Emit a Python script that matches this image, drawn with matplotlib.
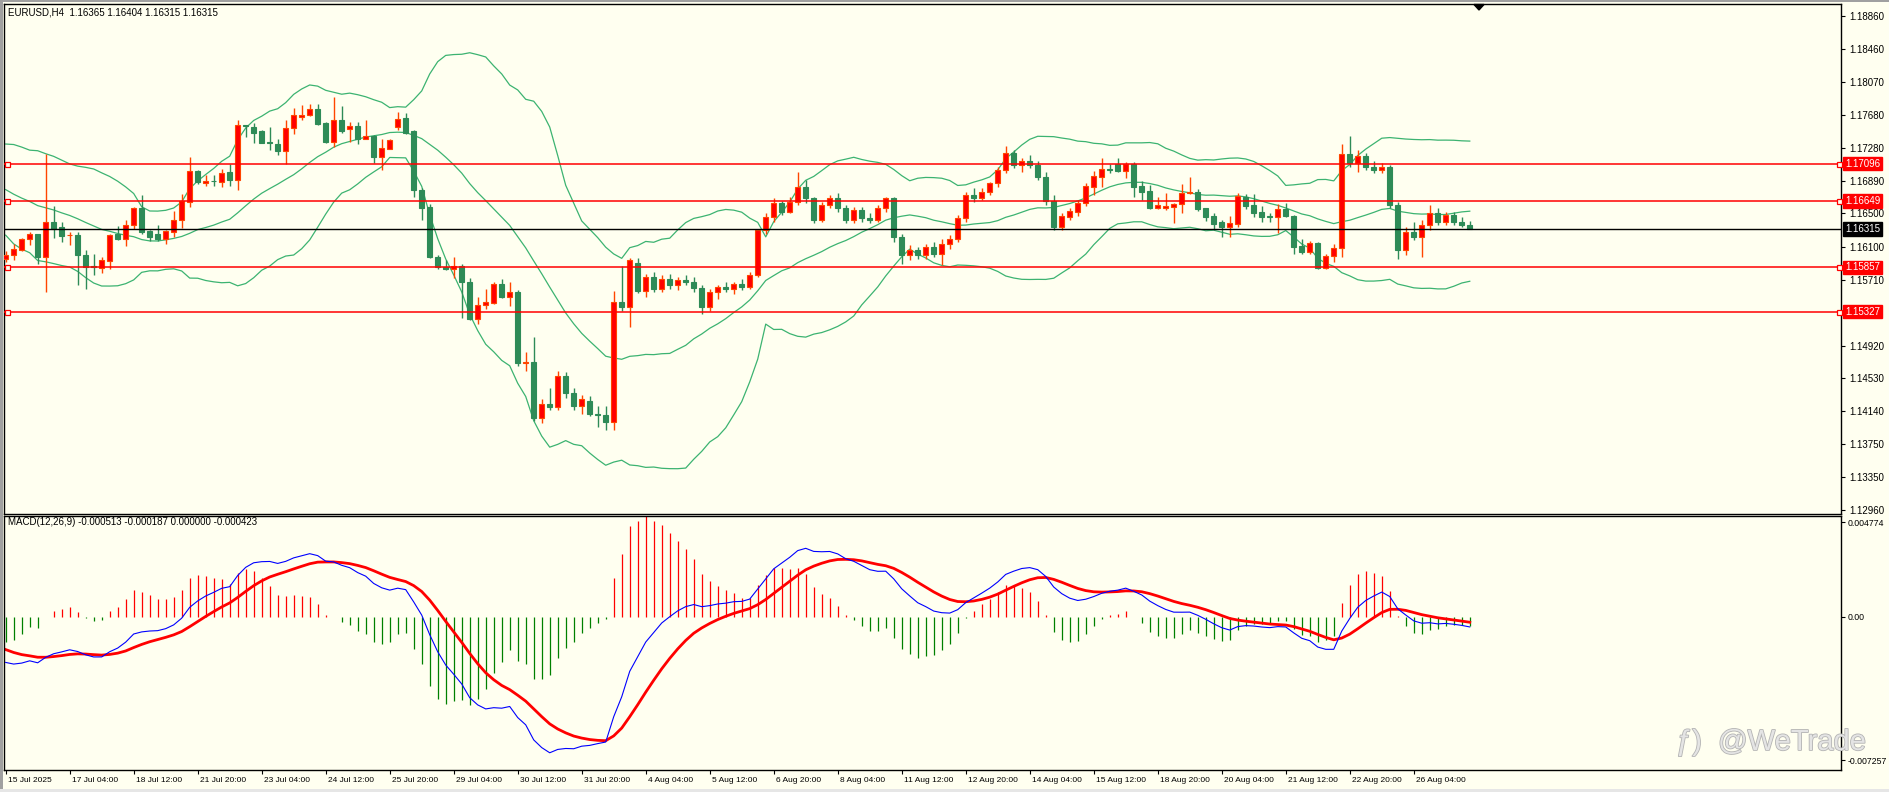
import numpy as np
import matplotlib.pyplot as plt
import matplotlib.patheffects as pe
from matplotlib.patches import Rectangle, Polygon
from matplotlib.transforms import blended_transform_factory, ScaledTranslation

# ---- chart data ----
title_text = "EURUSD,H4  1.16365 1.16404 1.16315 1.16315"
macd_text = "MACD(12,26,9) -0.000513 -0.000187 0.000000 -0.000423"

opens = [
    1.15954, 1.16000, 1.16069, 1.16197, 1.16252, 1.15982, 1.16392, 1.16340, 1.16240, 1.16248,
    1.16009, 1.15870, 1.15854, 1.15934, 1.16252, 1.16189, 1.16356, 1.16563, 1.16292, 1.16260,
    1.16189, 1.16280, 1.16419, 1.16638, 1.17008, 1.16865, 1.16893, 1.16877, 1.16989, 1.16905,
    1.17550, 1.17530, 1.17482, 1.17347, 1.17323, 1.17247, 1.17514, 1.17653, 1.17673, 1.17741,
    1.17582, 1.17355, 1.17621, 1.17510, 1.17538, 1.17387, 1.17430, 1.17176, 1.17275, 1.17534,
    1.17641, 1.17482, 1.16778, 1.16582, 1.15985, 1.15865, 1.15837, 1.15877, 1.15686, 1.15240,
    1.15408, 1.15431, 1.15658, 1.15499, 1.15567, 1.14711, 1.14731, 1.14060, 1.14230, 1.14190,
    1.14560, 1.14360, 1.14200, 1.14260, 1.14110, 1.14090, 1.14010, 1.15447, 1.15379, 1.15905,
    1.15571, 1.15740, 1.15600, 1.15720, 1.15640, 1.15700, 1.15680, 1.15610, 1.15380, 1.15560,
    1.15620, 1.15600, 1.15660, 1.15620, 1.15760, 1.16300, 1.16460, 1.16620, 1.16520, 1.16640,
    1.16820, 1.16680, 1.16420, 1.16600, 1.16680, 1.16560, 1.16420, 1.16540, 1.16440, 1.16420,
    1.16560, 1.16680, 1.16220, 1.16000, 1.16060, 1.16000, 1.16100, 1.16020, 1.16140, 1.16200,
    1.16440, 1.16720, 1.16680, 1.16760, 1.16860, 1.17020, 1.17220, 1.17080, 1.17120, 1.17080,
    1.16940, 1.16647, 1.16342, 1.16453, 1.16520, 1.16620, 1.16818, 1.16937, 1.17036, 1.17096,
    1.17009, 1.17096, 1.16826, 1.16767, 1.16568, 1.16568, 1.16580, 1.16608, 1.16747, 1.16751,
    1.16568, 1.16469, 1.16401, 1.16342, 1.16373, 1.16699, 1.16600, 1.16516, 1.16465, 1.16453,
    1.16548, 1.16469, 1.16112, 1.16044, 1.16143, 1.15845, 1.15996, 1.16084, 1.17215, 1.17100,
    1.17180, 1.17060, 1.17020, 1.17060, 1.16600, 1.16060, 1.16280, 1.16220, 1.16360, 1.16500,
    1.16400, 1.16480, 1.16400, 1.16365,
]
highs = [
    1.16049, 1.16141, 1.16201, 1.16280, 1.16260, 1.17215, 1.16587, 1.16400, 1.16280, 1.16280,
    1.16061, 1.16021, 1.15982, 1.16260, 1.16348, 1.16419, 1.16579, 1.16718, 1.16300, 1.16356,
    1.16300, 1.16527, 1.16730, 1.17168, 1.17024, 1.16957, 1.16957, 1.17036, 1.17088, 1.17613,
    1.17554, 1.17574, 1.17494, 1.17534, 1.17394, 1.17613, 1.17753, 1.17792, 1.17805, 1.17801,
    1.17594, 1.17884, 1.17781, 1.17586, 1.17594, 1.17613, 1.17434, 1.17387, 1.17387, 1.17705,
    1.17701, 1.17494, 1.16800, 1.16614, 1.16005, 1.15945, 1.15985, 1.15897, 1.15730, 1.15507,
    1.15599, 1.15678, 1.15718, 1.15678, 1.15587, 1.14850, 1.15029, 1.14280, 1.14420, 1.14620,
    1.14610, 1.14420, 1.14330, 1.14320, 1.14200, 1.14200, 1.15579, 1.15877, 1.15965, 1.15965,
    1.15780, 1.15800, 1.15760, 1.15780, 1.15740, 1.15760, 1.15740, 1.15650, 1.15600, 1.15640,
    1.15680, 1.15680, 1.15720, 1.15800, 1.16320, 1.16500, 1.16680, 1.16650, 1.16700, 1.16990,
    1.16900, 1.16700, 1.16640, 1.16720, 1.16740, 1.16600, 1.16580, 1.16580, 1.16500, 1.16600,
    1.16700, 1.16700, 1.16260, 1.16120, 1.16100, 1.16140, 1.16160, 1.16200, 1.16240, 1.16480,
    1.16760, 1.16800, 1.16800, 1.16880, 1.17060, 1.17300, 1.17260, 1.17160, 1.17200, 1.17120,
    1.17000, 1.16719, 1.16508, 1.16560, 1.16659, 1.16858, 1.17009, 1.17163, 1.17096, 1.17156,
    1.17116, 1.17116, 1.16886, 1.16838, 1.16699, 1.16747, 1.16628, 1.16850, 1.16930, 1.16786,
    1.16568, 1.16508, 1.16421, 1.16469, 1.16747, 1.16731, 1.16731, 1.16588, 1.16508, 1.16608,
    1.16620, 1.16481, 1.16191, 1.16175, 1.16163, 1.16016, 1.16135, 1.17326, 1.17430, 1.17260,
    1.17220, 1.17120, 1.17100, 1.17080, 1.16640, 1.16340, 1.16400, 1.16420, 1.16600, 1.16560,
    1.16520, 1.16520, 1.16460, 1.16404,
]
lows = [
    1.15922, 1.15942, 1.16053, 1.16121, 1.15902, 1.15560, 1.16201, 1.16161, 1.16121, 1.15640,
    1.15600, 1.15763, 1.15783, 1.15842, 1.16181, 1.16113, 1.16320, 1.16252, 1.16173, 1.16169,
    1.16141, 1.16220, 1.16328, 1.16571, 1.16849, 1.16825, 1.16825, 1.16810, 1.16825, 1.16778,
    1.17414, 1.17335, 1.17335, 1.17263, 1.17195, 1.17096, 1.17454, 1.17621, 1.17661, 1.17554,
    1.17335, 1.17295, 1.17466, 1.17347, 1.17327, 1.17383, 1.17104, 1.17024, 1.17275, 1.17494,
    1.17454, 1.16698, 1.16422, 1.15969, 1.15837, 1.15829, 1.15730, 1.15252, 1.15232, 1.15181,
    1.15360, 1.15419, 1.15491, 1.15392, 1.14675, 1.14624, 1.14020, 1.14000, 1.14150, 1.14150,
    1.14300, 1.14150, 1.14110, 1.14080, 1.13950, 1.13920, 1.13920, 1.15340, 1.15149, 1.15547,
    1.15500, 1.15560, 1.15560, 1.15600, 1.15590, 1.15640, 1.15560, 1.15300, 1.15340, 1.15480,
    1.15560, 1.15540, 1.15580, 1.15600, 1.15740, 1.16260, 1.16400, 1.16480, 1.16500, 1.16600,
    1.16620, 1.16380, 1.16400, 1.16560, 1.16520, 1.16380, 1.16380, 1.16400, 1.16380, 1.16400,
    1.16520, 1.16160, 1.15900, 1.15940, 1.15960, 1.15960, 1.15980, 1.15880, 1.16080, 1.16160,
    1.16400, 1.16640, 1.16660, 1.16720, 1.16820, 1.16980, 1.17040, 1.17000, 1.17040, 1.16900,
    1.16600, 1.16302, 1.16302, 1.16421, 1.16469, 1.16588, 1.16719, 1.16810, 1.16985, 1.16997,
    1.16917, 1.16699, 1.16659, 1.16552, 1.16552, 1.16540, 1.16389, 1.16508, 1.16731, 1.16532,
    1.16413, 1.16302, 1.16215, 1.16223, 1.16342, 1.16556, 1.16453, 1.16401, 1.16393, 1.16262,
    1.16453, 1.16016, 1.16016, 1.16016, 1.15833, 1.15833, 1.15925, 1.15976, 1.17050, 1.17000,
    1.17020, 1.16980, 1.16980, 1.16560, 1.15960, 1.16000, 1.16180, 1.15980, 1.16300, 1.16360,
    1.16360, 1.16360, 1.16340, 1.16315,
]
closes = [
    1.16009, 1.16081, 1.16189, 1.16252, 1.15982, 1.16392, 1.16320, 1.16232, 1.16248, 1.16009,
    1.15862, 1.15862, 1.15942, 1.16240, 1.16189, 1.16360, 1.16563, 1.16280, 1.16220, 1.16189,
    1.16288, 1.16419, 1.16650, 1.17005, 1.16877, 1.16885, 1.16885, 1.16977, 1.16901, 1.17550,
    1.17542, 1.17462, 1.17343, 1.17343, 1.17247, 1.17514, 1.17673, 1.17677, 1.17745, 1.17566,
    1.17355, 1.17621, 1.17486, 1.17538, 1.17383, 1.17430, 1.17176, 1.17287, 1.17375, 1.17633,
    1.17466, 1.16778, 1.16566, 1.15977, 1.15857, 1.15837, 1.15877, 1.15678, 1.15240, 1.15408,
    1.15447, 1.15658, 1.15499, 1.15567, 1.14715, 1.14731, 1.14060, 1.14230, 1.14190, 1.14560,
    1.14360, 1.14200, 1.14280, 1.14110, 1.14090, 1.14010, 1.15447, 1.15379, 1.15945, 1.15571,
    1.15740, 1.15600, 1.15720, 1.15640, 1.15700, 1.15680, 1.15610, 1.15380, 1.15560, 1.15620,
    1.15600, 1.15660, 1.15620, 1.15760, 1.16300, 1.16460, 1.16620, 1.16520, 1.16640, 1.16820,
    1.16680, 1.16420, 1.16600, 1.16680, 1.16560, 1.16420, 1.16540, 1.16440, 1.16420, 1.16560,
    1.16680, 1.16220, 1.16000, 1.16060, 1.16000, 1.16100, 1.16020, 1.16140, 1.16200, 1.16440,
    1.16720, 1.16680, 1.16760, 1.16860, 1.17020, 1.17220, 1.17080, 1.17120, 1.17080, 1.16940,
    1.16647, 1.16342, 1.16469, 1.16528, 1.16620, 1.16826, 1.16945, 1.17036, 1.17017, 1.17005,
    1.17096, 1.16818, 1.16759, 1.16568, 1.16600, 1.16588, 1.16612, 1.16747, 1.16759, 1.16552,
    1.16461, 1.16373, 1.16342, 1.16381, 1.16707, 1.16588, 1.16508, 1.16461, 1.16461, 1.16548,
    1.16469, 1.16104, 1.16044, 1.16143, 1.15845, 1.15992, 1.16084, 1.17215, 1.17100, 1.17180,
    1.17060, 1.17020, 1.17060, 1.16600, 1.16060, 1.16280, 1.16220, 1.16360, 1.16500, 1.16400,
    1.16480, 1.16400, 1.16365, 1.16315,
]

# closes just before the visible window (only used to warm up the bands)
prior_closes = [1.17180, 1.17120, 1.17050, 1.16980, 1.16900, 1.16850, 1.16920, 1.16870, 1.16800,
                1.16750, 1.16700, 1.16760, 1.16680, 1.16720, 1.16790, 1.16900, 1.16960, 1.16540, 1.16210]
ema12_seed = 1.16470
ema26_seed = 1.16680
dea_seed = -0.00150

level_lines = [1.17096, 1.16649, 1.15857, 1.15327]
bid_price = 1.16315
price_ticks = [1.18860, 1.18460, 1.18070, 1.17680, 1.17280, 1.16890, 1.16500, 1.16100,
               1.15710, 1.14920, 1.14530, 1.14140, 1.13750, 1.13350, 1.12960]
macd_ticks = [0.004774, 0.0, -0.007257]
macd_tick_labels = ["0.004774", "0.00", "-0.007257"]
date_labels = ["15 Jul 2025", "17 Jul 04:00", "18 Jul 12:00", "21 Jul 20:00", "23 Jul 04:00",
               "24 Jul 12:00", "25 Jul 20:00", "29 Jul 04:00", "30 Jul 12:00", "31 Jul 20:00",
               "4 Aug 04:00", "5 Aug 12:00", "6 Aug 20:00", "8 Aug 04:00", "11 Aug 12:00",
               "12 Aug 20:00", "14 Aug 04:00", "15 Aug 12:00", "18 Aug 20:00", "20 Aug 04:00",
               "21 Aug 12:00", "22 Aug 20:00", "26 Aug 04:00"]

# ---- indicators ----
allc = np.array(prior_closes + closes)
n0 = len(prior_closes)
bb_mid = np.array([allc[k - 19:k + 1].mean() for k in range(n0, len(allc))])
bb_std = np.array([allc[k - 19:k + 1].std() for k in range(n0, len(allc))])
bb_up = bb_mid + 2 * bb_std
bb_lo = bb_mid - 2 * bb_std


def ema(vals, seed, period):
    a = 2.0 / (period + 1)
    out = []
    prev = seed
    for v in vals:
        prev = prev + a * (v - prev)
        out.append(prev)
    return np.array(out)


dif = ema(closes, ema12_seed, 12) - ema(closes, ema26_seed, 26)
dea = ema(dif, dea_seed, 9)
hist = 2 * (dif - dea)

# ---- figure ----
BG = "#fffff0"
plt.rcParams["font.family"] = ["Liberation Sans", "DejaVu Sans"]
W, H = 1889, 792
fig = plt.figure(figsize=(W / 100, H / 100), dpi=100, facecolor=BG)


def px_rect(x0, y0, x1, y1):
    return [x0 / W, 1 - y1 / H, (x1 - x0) / W, (y1 - y0) / H]


ax = fig.add_axes(px_rect(4, 4, 1841, 513.5), facecolor=BG)
axm = fig.add_axes(px_rect(4, 516, 1841, 770), facecolor=BG)

xs = np.arange(len(closes))
xlim = (-0.21, 229.4)

# bands
ax.plot(xs, bb_up, color="#3cb371", lw=0.9, zorder=1)
ax.plot(xs, bb_mid, color="#3cb371", lw=0.9, zorder=1)
ax.plot(xs, bb_lo, color="#3cb371", lw=0.9, zorder=1)

# candles (red = up, green = down)
for i in xs:
    o, h, l, c = opens[i], highs[i], lows[i], closes[i]
    up = c >= o
    wick = "#ff4500" if up else "#2e8b57"
    face = "#ff0000" if up else "#2e8b57"
    ax.vlines(i, l, h, color=wick, lw=1.0, zorder=2)
    lo = min(o, c)
    hgt = max(abs(c - o), 0.00008)
    ax.add_patch(Rectangle((i - 0.3, lo), 0.6, hgt, facecolor=face, edgecolor=wick,
                           lw=0.8, zorder=3))

# horizontal levels + bid line
blend = blended_transform_factory(ax.transAxes, ax.transData)
lab_off = ScaledTranslation(4 / 100, 0, fig.dpi_scale_trans)
for lv in level_lines:
    ax.axhline(lv, color="#ff0000", lw=1.1, zorder=4)
    ax.plot([0.2, 229.1], [lv, lv], ls="none", marker="s", ms=3.6, mfc=BG, mec="#ff0000",
            mew=0.9, zorder=5, clip_on=False)
    ax.text(1.0, lv, "%.5f" % lv, transform=blend + lab_off, ha="left", va="center",
            fontsize=7, color="white", zorder=6, clip_on=False,
            bbox=dict(boxstyle="square,pad=0.18", fc="#ff0000", ec="#ff0000"))
ax.axhline(bid_price, color="black", lw=1.0, zorder=4)
ax.text(1.0, bid_price, "%.5f" % bid_price, transform=blend + lab_off, ha="left", va="center",
        fontsize=7, color="white", zorder=6, clip_on=False,
        bbox=dict(boxstyle="square,pad=0.18", fc="black", ec="black"))

ax.set_xlim(*xlim)
ax.set_ylim(1.12918, 1.19000)
ax.set_xticks([])
ax.yaxis.tick_right()
ax.set_yticks(price_ticks)
ax.set_yticklabels(["%.5f" % p for p in price_ticks])
ax.tick_params(axis="y", direction="out", length=3, width=0.8, pad=3, labelsize=7)

# MACD pane
pos = hist >= 0
axm.vlines(xs[pos], 0, hist[pos], color="#ff0000", lw=0.9, zorder=1)
axm.vlines(xs[~pos], 0, hist[~pos], color="#008000", lw=0.9, zorder=1)
axm.plot(xs, dea, color="#ff0000", lw=2.0, zorder=2)
axm.plot(xs, dif, color="#0000ff", lw=0.8, zorder=3)
axm.set_xlim(*xlim)
axm.set_ylim(-0.00775, 0.00509)
axm.yaxis.tick_right()
axm.set_yticks(macd_ticks)
axm.set_yticklabels(macd_tick_labels)
axm.tick_params(axis="y", direction="out", length=3, width=0.8, pad=1.5, labelsize=6.3)
axm.set_xticks(np.arange(0, 8 * len(date_labels), 8))
axm.set_xticklabels(date_labels)
axm.tick_params(axis="x", direction="out", length=3, width=0.8, pad=2, labelsize=6)
for t in axm.get_xticklabels():
    t.set_horizontalalignment("left")
    t.set_transform(t.get_transform() + ScaledTranslation(2 / 100, 0, fig.dpi_scale_trans))

for a in (ax, axm):
    for s in a.spines.values():
        s.set_color("black")
        s.set_linewidth(1.0)

# texts
fig.text(8 / W, 1 - 12.7 / H, title_text, fontsize=7, va="center", ha="left")
fig.text(8 / W, 1 - 522 / H, macd_text, fontsize=7, va="center", ha="left")

# chart shift marker
fig.patches.append(Polygon([[1474 / W, 1 - 4.5 / H], [1484 / W, 1 - 4.5 / H], [1479 / W, 1 - 10 / H]],
                           closed=True, transform=fig.transFigure, fc="black", ec="black"))

# watermark
wm_fx = [pe.withStroke(linewidth=1.2, foreground="#b4b4b4")]
fig.text(1676 / W, 1 - 750 / H, "\u0192)", fontsize=21, color="#e4e4e4", va="baseline", ha="left",
         path_effects=wm_fx)
fig.text(1718 / W, 1 - 750 / H, "@WeTrade", fontsize=21, color="#e4e4e4", va="baseline", ha="left",
         path_effects=wm_fx)

# window frame bits
fig.patches.append(Rectangle((0, 0), 2.5 / W, 1, transform=fig.transFigure, fc="#a0a0a0", ec="none"))
fig.patches.append(Rectangle((0, 1 - 1.5 / H), 1, 1.5 / H, transform=fig.transFigure, fc="#a0a0a0", ec="none"))
fig.patches.append(Rectangle((0, 0), 1, 3 / H, transform=fig.transFigure, fc="#e6e6e6", ec="none"))

fig.savefig("out.png", dpi=100, facecolor=BG)
